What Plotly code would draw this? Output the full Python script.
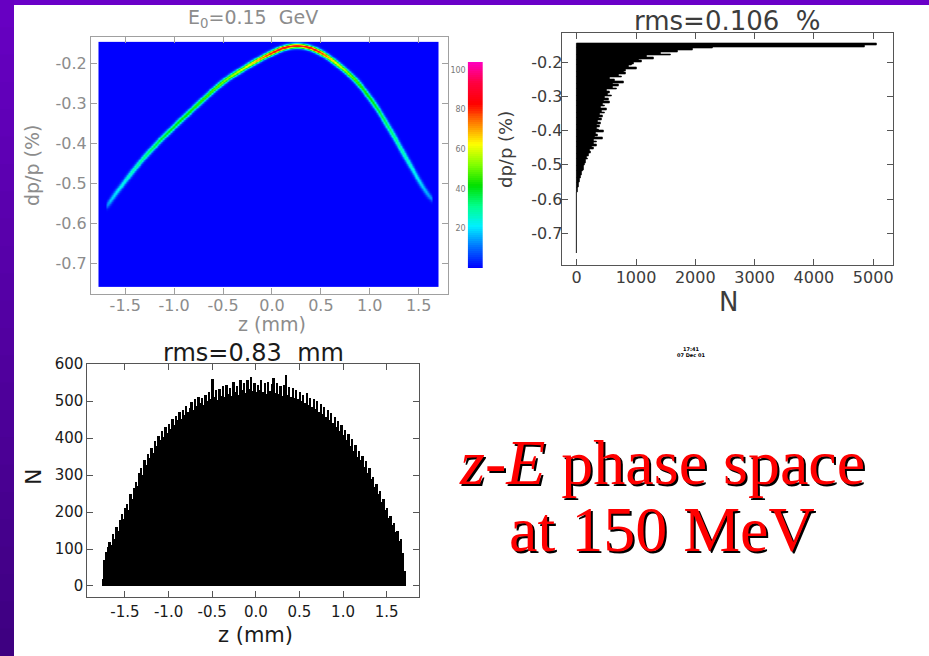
import numpy as np
import plotly.graph_objects as go

W, H = 929, 656

# ---------------- data ----------------
# ridge of the z - dp/p distribution (centre line and peak density, 0-100 scale)
ridge_z = [-1.70, -1.65, -1.52, -1.38, -1.18, -0.97, -0.735, -0.50, -0.26, -0.14,
           -0.02, 0.10, 0.22, 0.34, 0.456, 0.56, 0.66, 0.864, 1.068, 1.27, 1.44, 1.58, 1.646]
ridge_dp = [-0.571, -0.538, -0.500, -0.454, -0.400, -0.350, -0.296, -0.244, -0.207, -0.190,
            -0.175, -0.161, -0.154, -0.156, -0.166, -0.181, -0.199, -0.242, -0.308, -0.392,
            -0.467, -0.525, -0.550]
ridge_level = [10, 18, 24, 30, 38, 42, 46, 52, 62, 72,
               82, 88, 90, 88, 84, 74, 62, 48, 40, 32, 24, 16, 12]

# dp/p histogram, 0.005 % bins, from the top bin (-0.145..-0.150) downward
dp_counts = [5060, 4850, 2300, 1950, 1700, 1420, 1580, 1180, 1300, 1050,
             1090, 960, 930, 870, 1010, 820, 790, 830, 700, 760,
             560, 640, 790, 610, 700, 600, 670, 510, 560, 520,
             590, 480, 540, 450, 560, 430, 470, 400, 500, 420,
             470, 390, 440, 370, 420, 360, 400, 340, 380, 330,
             370, 450, 320, 360, 300, 440, 290, 330, 280, 330,
             250, 280, 220, 240, 200, 210, 170, 190, 160, 150,
             135, 125, 115, 110, 95, 85, 80, 65, 60, 50,
             45, 38, 32, 26, 18, 12, 9, 7, 6, 6,
             5, 5, 4, 5, 4, 4, 3, 4, 3, 3,
             4, 3, 3, 2, 3, 3, 2, 3, 2, 2,
             3, 2, 2, 2, 2, 1, 2, 2, 1, 2,
             1, 1, 1]
dp_top = -0.145
dp_bin = 0.005

# z histogram, 0.02 mm bins starting at -1.76 mm
z_counts = [20, 70, 92, 105, 118, 110, 140, 128, 160, 148,
            178, 195, 182, 210, 222, 205, 248, 236, 265, 282,
            270, 305, 318, 300, 340, 328, 356, 345, 372, 360,
            392, 380, 405, 396, 418, 402, 430, 415, 438, 425,
            452, 436, 460, 448, 470, 452, 475, 462, 488, 470,
            482, 498, 476, 505, 488, 512, 494, 508, 490, 518,
            500, 526, 505, 560, 510, 530, 502, 534, 515, 540,
            512, 545, 520, 536, 515, 552, 525, 540, 518, 556,
            530, 548, 522, 558, 532, 565, 528, 550, 524, 545,
            530, 558, 526, 548, 520, 552, 528, 546, 562, 522,
            548, 520, 540, 515, 545, 570, 518, 538, 512, 535,
            508, 530, 505, 526, 500, 518, 495, 522, 490, 508,
            484, 505, 478, 500, 470, 492, 465, 485, 458, 476,
            450, 468, 440, 456, 430, 445, 420, 436, 408, 422,
            395, 410, 380, 398, 365, 382, 350, 366, 340, 352,
            322, 338, 305, 318, 290, 296, 268, 276, 250, 256,
            228, 236, 205, 212, 185, 190, 165, 170, 145, 150,
            122, 128, 90, 40]
z_start = -1.76
z_bin = 0.02

z_ticks = [-1.5, -1.0, -0.5, 0.0, 0.5, 1.0, 1.5]
z_tick_text = ["-1.5", "-1.0", "-0.5", "0.0", "0.5", "1.0", "1.5"]
dp_ticks = [-0.7, -0.6, -0.5, -0.4, -0.3, -0.2]
dp_tick_text = ["-0.7", "-0.6", "-0.5", "-0.4", "-0.3", "-0.2"]
n_ticks = [0, 1000, 2000, 3000, 4000, 5000]
nz_ticks = [0, 100, 200, 300, 400, 500, 600]
cb_ticks = [20, 40, 60, 80, 100]

# ---------------- helpers ----------------
def px(x):
    return x / W


def py(y):
    return 1 - y / H


FONT = "DejaVu Sans"
GRAY = "#8c8c8c"
DARK = "#3c3c3c"
BLACK = "#1a1a1a"

rainbow = [[0.0, "#0000ff"], [0.1, "#0070ff"], [0.2, "#00f0ff"], [0.3, "#00ff90"],
           [0.4, "#00e000"], [0.5, "#80ff00"], [0.6, "#ffff00"], [0.7, "#ff8000"],
           [0.8, "#ff0000"], [0.9, "#ff0040"], [1.0, "#ff00c0"]]

# density map built around the ridge line (ridge eased with a short moving window)
gz = np.linspace(-1.77, 1.70, 520)
gy = np.linspace(-0.759, -0.147, 380)
centre = np.interp(gz, ridge_z, ridge_dp)
kern = np.exp(-0.5 * (np.arange(-24, 25) / 9.0) ** 2)
kern /= kern.sum()
padded = np.concatenate([np.full(24, centre[0]), centre, np.full(24, centre[-1])])
centre = np.convolve(padded, kern, mode="valid")
level = np.interp(gz, ridge_z, ridge_level, left=0, right=0)
sx, sy = 98.0, 400.0  # pixels per unit on the two axes
slope = np.gradient(centre, gz) * sy / sx
dist = (gy[:, None] - centre[None, :]) * sy / np.sqrt(1 + slope[None, :] ** 2)
dens = np.round(level[None, :] * np.exp(-0.5 * (dist / 1.6) ** 2), 1)

fig = go.Figure()

fig.add_trace(go.Heatmap(x=gz, y=gy, z=dens, colorscale=rainbow, zmin=0, zmax=104,
                         zsmooth="best", showscale=False, xaxis="x", yaxis="y",
                         hoverinfo="skip"))

# colour key as its own small axis pair
cb_vals = list(range(0, 105))
fig.add_trace(go.Heatmap(x=[0], y=cb_vals, z=[[v] for v in cb_vals], colorscale=rainbow,
                         zmin=0, zmax=104, showscale=False, xaxis="x4", yaxis="y4",
                         hoverinfo="skip"))

dp_centres = [dp_top - dp_bin * (k + 0.5) for k in range(len(dp_counts))]
fig.add_trace(go.Bar(y=dp_centres, x=dp_counts, orientation="h", width=dp_bin,
                     marker=dict(color="black", line=dict(color="black", width=0.6)),
                     xaxis="x2", yaxis="y2", hoverinfo="skip"))

z_centres = [z_start + z_bin * (i + 0.5) for i in range(len(z_counts))]
fig.add_trace(go.Bar(x=z_centres, y=z_counts, width=z_bin,
                     marker=dict(color="black", line=dict(color="black", width=0)),
                     xaxis="x3", yaxis="y3", hoverinfo="skip"))


def frame(color, fsize, fcolor, standoff=0):
    return dict(showline=True, linecolor=color, linewidth=1, mirror="ticks",
                ticks="inside", ticklen=6, tickcolor=color, showgrid=False,
                zeroline=False, automargin=False,
                tickfont=dict(family=FONT, size=fsize, color=fcolor),
                ticklabelstandoff=standoff)


layout = dict(
    width=W, height=H, autosize=False,
    margin=dict(l=0, r=0, t=0, b=0, pad=0, autoexpand=False),
    paper_bgcolor="white", plot_bgcolor="white", showlegend=False, bargap=0,
    xaxis=dict(domain=[px(91), px(448)], range=[-1.85, 1.80], anchor="y",
               tickvals=z_ticks, ticktext=z_tick_text, **frame("#a0a0a0", 16, GRAY, -3)),
    yaxis=dict(domain=[py(294), py(37)], range=[-0.777, -0.134], anchor="x",
               tickvals=dp_ticks, ticktext=dp_tick_text, **frame("#a0a0a0", 16, GRAY, 0)),
    xaxis2=dict(domain=[px(561.7), px(893.3)], range=[-253, 5339], anchor="y2",
                tickvals=n_ticks, ticktext=[str(v) for v in n_ticks], **frame("#555555", 16, DARK, -2)),
    yaxis2=dict(domain=[py(265), py(33.3)], range=[-0.793, -0.115], anchor="x2",
                tickvals=dp_ticks, ticktext=dp_tick_text, **frame("#555555", 16, DARK, -5)),
    xaxis3=dict(domain=[px(87.3), px(419)], range=[-1.932, 1.871], anchor="y3",
                tickvals=z_ticks, ticktext=z_tick_text, **frame("#555555", 15, BLACK, 1)),
    yaxis3=dict(domain=[py(596.7), py(364)], range=[-29, 600.5], anchor="x3",
                tickvals=nz_ticks, ticktext=[str(v) for v in nz_ticks], **frame("#555555", 15, BLACK, 0)),
    xaxis4=dict(domain=[px(467.7), px(483)], range=[-0.5, 0.5], anchor="y4",
                showticklabels=False, ticks="", showgrid=False, zeroline=False,
                showline=False, automargin=False),
    yaxis4=dict(domain=[py(268), py(62)], range=[0, 104], anchor="x4", side="left",
                tickvals=cb_ticks, ticktext=[str(v) for v in cb_ticks], ticks="",
                showgrid=False, zeroline=False, showline=False, ticklabelstandoff=1,
                automargin=False, tickfont=dict(family=FONT, size=8, color="#777777")),
)
fig.update_layout(**layout)

# purple slide border: top band and a left strip shading downward
shapes = [dict(type="rect", xref="paper", yref="paper", x0=0, x1=1, y0=py(5), y1=1,
               line=dict(width=0), fillcolor="#6a00c8", layer="above")]
top_rgb, bot_rgb = np.array([0x68, 0x00, 0xc4]), np.array([0x3e, 0x00, 0x80])
n_seg = 24
for k in range(n_seg):
    c = top_rgb + (bot_rgb - top_rgb) * (k + 0.5) / n_seg
    shapes.append(dict(type="rect", xref="paper", yref="paper", x0=0, x1=px(14),
                       y0=max(0.0, 1 - (k + 1) / n_seg - 0.001), y1=1 - k / n_seg,
                       line=dict(width=0), layer="above",
                       fillcolor="rgb(%d,%d,%d)" % tuple(c.astype(int))))
fig.update_layout(shapes=shapes)

ann = []


def label(text, x, y, size, color, angle=0, family=FONT):
    ann.append(dict(text=text, x=px(x), y=py(y), xref="paper", yref="paper",
                    showarrow=False, xanchor="center", yanchor="middle",
                    textangle=angle, font=dict(family=family, size=size, color=color)))


NB = "\u00a0"
label("E<sub>0</sub>=0.15" + NB * 2 + "GeV", 253, 18, 19, GRAY)
label("dp/p" + NB + "(%)", 32, 165, 19, GRAY, -90)
label("z" + NB + "(mm)", 272, 324, 19, GRAY)

label("rms=0.106" + NB * 2 + "%", 727, 21, 26, DARK)
label("dp/p" + NB + "(%)", 505, 150, 18, DARK, -90)
label("N", 728, 302, 26, DARK)

label("rms=0.83" + NB * 2 + "mm", 253, 353, 24, BLACK)
label("N", 33, 477, 22, BLACK, -90)
label("z" + NB + "(mm)", 256, 635, 21, BLACK)

label("<b>17:41</b>", 691, 349, 5, "black")
label("<b>07 Dec 01</b>", 691, 355, 5, "black")

SERIF = "Liberation Serif"
for dx, col in ((2, "black"), (0, "#ff0000")):
    label("<i>z</i>-<i>E</i> phase space", 662 + dx, 462 + dx, 64, col, family=SERIF)
    label("at 150 MeV", 662 + dx, 529 + dx, 64, col, family=SERIF)

fig.update_layout(annotations=ann)
fig.write_html("out.html")
